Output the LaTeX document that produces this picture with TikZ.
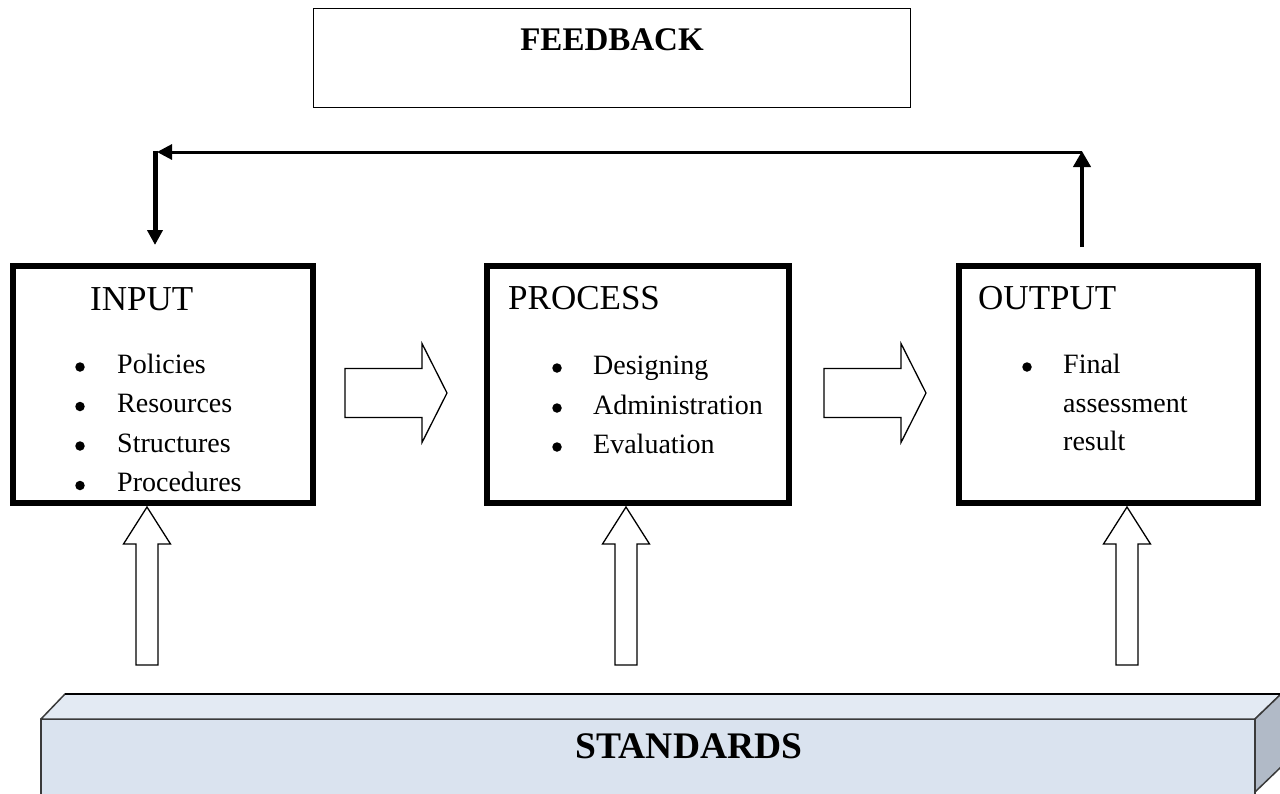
\documentclass[tikz,border=0pt]{standalone}
\usepackage{fontspec}
\setmainfont{Liberation Serif}
\usetikzlibrary{arrows.meta}
\definecolor{frontblue}{HTML}{DAE3EF}
\definecolor{topblue}{HTML}{E3EAF3}
\definecolor{sideblue}{HTML}{B1BAC7}
\definecolor{edgegray}{HTML}{3A3A3A}
\tikzset{
  mainbox/.style={draw=black, line width=6pt, rectangle, inner sep=0pt, outer sep=0pt},
  headtxt/.style={font=\fontsize{35}{40}\selectfont, anchor=base west, inner sep=0pt},
  itemtxt/.style={font=\fontsize{28}{32}\selectfont, anchor=base west, inner sep=0pt},
  bulletdot/.style={circle, fill=black, inner sep=0pt, minimum size=9.5pt},
  blockarrow/.style={draw=black, line width=1.3pt, fill=white, line join=miter},
  rblock/.pic={\draw[blockarrow] (0,-24.5) -- (77,-24.5) -- (77,-49.5) -- (102,0) -- (77,49.5) -- (77,24.5) -- (0,24.5) -- cycle;},
  ublock/.pic={\draw[blockarrow] (0,0) -- (23.5,37) -- (11,37) -- (11,158) -- (-11,158) -- (-11,37) -- (-23.5,37) -- cycle;},
  face/.style={draw=edgegray, line width=1.5pt, line join=round},
}
\begin{document}
\begin{tikzpicture}[x=1pt, y=-1pt]
\useasboundingbox (0,0) rectangle (1280,793);
\fill[white] (0,0) rectangle (1280,793);

% feedback box
\node[draw=black, line width=1pt, rectangle, minimum width=597pt, minimum height=99pt, inner sep=0pt] (feedback) at (611.5,57.5) {};
\node[font=\bfseries\fontsize{33}{38}\selectfont, anchor=base, inner sep=0pt] (fbtext) at (612,50) {FEEDBACK};

% main boxes
\node[mainbox, minimum width=300pt, minimum height=237pt] (input) at (163,384.5) {};
\node[mainbox, minimum width=302pt, minimum height=237pt] (process) at (638,384.5) {};
\node[mainbox, minimum width=299pt, minimum height=237pt] (output) at (1108.5,384.5) {};

% INPUT text
\node[headtxt] (inhead) at (90,310) {INPUT};
\node[bulletdot] (inb1) at (80,367) {};
\node[bulletdot] (inb2) at (80,406.5) {};
\node[bulletdot] (inb3) at (80,446) {};
\node[bulletdot] (inb4) at (80,485.5) {};
\node[itemtxt] (ini1) at (117,373) {Policies};
\node[itemtxt] (ini2) at (117,412.5) {Resources};
\node[itemtxt] (ini3) at (117,452) {Structures};
\node[itemtxt] (ini4) at (117,491.5) {Procedures};

% PROCESS text
\node[headtxt] (prhead) at (508,309) {PROCESS};
\node[bulletdot] (prb1) at (557,368) {};
\node[bulletdot] (prb2) at (557,408) {};
\node[bulletdot] (prb3) at (557,447) {};
\node[itemtxt] (pri1) at (593,374) {Designing};
\node[itemtxt] (pri2) at (593,414) {Administration};
\node[itemtxt] (pri3) at (593,453) {Evaluation};

% OUTPUT text
\node[headtxt] (ouhead) at (978,309) {OUTPUT};
\node[bulletdot] (oub1) at (1027,367) {};
\node[itemtxt] (oui1) at (1063,373) {Final};
\node[itemtxt] (oui2) at (1063,412) {assessment};
\node[itemtxt] (oui3) at (1063,450) {result};

% block arrows between boxes
\pic at (345,393) {rblock};
\pic at (824,393) {rblock};

% feedback loop
\coordinate (fbOut) at (1082,247);
\coordinate (fbRT) at (1082,151);
\coordinate (fbRH) at (1082,152);
\coordinate (fbLH) at (157,152);
\coordinate (fbLT) at (155,150.5);
\coordinate (fbIn) at (155,245);
\draw[line width=4pt, -{Triangle[length=16pt,width=17pt]}] (fbOut) -- (fbRT);
\draw[line width=3pt, -{Triangle[length=15pt,width=15pt]}] (fbRH) -- (fbLH);
\draw[line width=5pt, -{Triangle[length=15pt,width=15pt]}] (fbLT) -- (fbIn);

% standards bar
\node[face, fill=frontblue, rectangle, minimum width=1214pt, minimum height=80pt, inner sep=0pt, outer sep=0pt, anchor=north west] (standards) at (41,719) {};
\draw[face, fill=topblue] (standards.north west) -- (65,694) -- (1281,694) -- (standards.north east) -- cycle;
\draw[face, fill=sideblue] (standards.north east) -- (1281,694) -- (1281,767) -- (1255,792) -- cycle;
\draw[black, line width=2pt] (65,694) -- (1281,694);
\node[font=\bfseries\fontsize{37.5}{42}\selectfont, anchor=base, inner sep=0pt] (stdtext) at (689,758) {STANDARDS};

% up block arrows from standards
\pic at (147,507) {ublock};
\pic at (626,507) {ublock};
\pic at (1127,507) {ublock};
\end{tikzpicture}
\end{document}
